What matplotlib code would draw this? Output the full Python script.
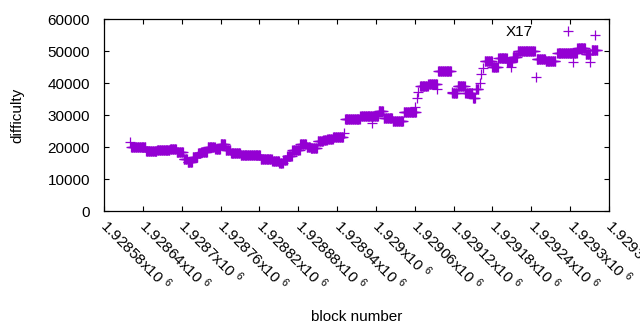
import numpy as np
import matplotlib
matplotlib.use("Agg")
import matplotlib.pyplot as plt
from matplotlib.ticker import FuncFormatter

plt.rcParams['font.family'] = ['Liberation Sans', 'DejaVu Sans']
plt.rcParams['mathtext.fontset'] = 'custom'
plt.rcParams['mathtext.rm'] = 'Liberation Sans'
plt.rcParams['mathtext.it'] = 'Liberation Sans:italic'

# runs of blocks with the same difficulty
seg_start = [1928622, 1928645, 1928662, 1928682, 1928692, 1928703, 1928709, 1928717,
             1928725, 1928730, 1928740, 1928752, 1928760, 1928768, 1928776, 1928791,
             1928822, 1928840, 1928851, 1928857, 1928863, 1928871, 1928883, 1928893,
             1928899, 1928910, 1928919, 1928925, 1928934, 1928952, 1928976, 1929004,
             1929012, 1929026, 1929043, 1929052, 1929068, 1929081, 1929096, 1929118,
             1929126, 1929138, 1929150, 1929154, 1929168, 1929180, 1929189, 1929203,
             1929211, 1929219, 1929248, 1929262, 1929280, 1929311, 1929324, 1929333]
seg_end = [1928644, 1928661, 1928681, 1928691, 1928702, 1928708, 1928716, 1928724,
           1928729, 1928739, 1928751, 1928759, 1928767, 1928775, 1928790, 1928821,
           1928839, 1928850, 1928856, 1928862, 1928870, 1928882, 1928892, 1928898,
           1928909, 1928918, 1928924, 1928933, 1928949, 1928975, 1929003, 1929011,
           1929025, 1929042, 1929051, 1929062, 1929080, 1929094, 1929116, 1929125,
           1929137, 1929149, 1929153, 1929158, 1929179, 1929188, 1929202, 1929210,
           1929218, 1929245, 1929261, 1929277, 1929310, 1929323, 1929331, 1929342]
seg_value = [19900, 18800, 19000, 19300, 18300, 16200, 15400, 16800,
             18000, 18500, 19900, 19300, 20800, 19000, 18000, 17500,
             16200, 15600, 14900, 16000, 17200, 19000, 20900, 20100,
             19600, 21900, 22300, 22400, 23000, 28700, 29700, 31200,
             29000, 28200, 30800, 31000, 39000, 39700, 43750, 36800,
             39000, 36800, 35400, 38000, 46900, 45100, 47900, 46700,
             48000, 50000, 47600, 47000, 49500, 50800, 49000, 50300]

# single blocks off the runs
out_block = [1928620, 1928994, 1928951, 1929061, 1929063, 1929065, 1929095, 1929117,
             1929160, 1929163, 1929165, 1929209, 1929213, 1929247, 1929304, 1929331,
             1929338]
out_value = [21500, 27600, 24300, 32500, 35200, 37300, 38000, 37300,
             40100, 42800, 44600, 45100, 48200, 41800, 46700, 46700,
             55000]

blocks = [np.arange(s, e + 1) for s, e in zip(seg_start, seg_end)]
values = [np.full(len(b), v) for b, v in zip(blocks, seg_value)]
block = np.concatenate(blocks + [np.array(out_block)])
difficulty = np.concatenate(values + [np.array(out_value)])

fig = plt.figure(figsize=(6.4, 3.3), dpi=100)
ax = fig.add_axes([0.1625, 0.3606, 0.7891, 0.5818])

ax.plot(block, difficulty, '+', color='#9400d3', markersize=7, markeredgewidth=0.9,
        label='X17')

ax.set_xlim(1928580, 1929360)
ax.set_ylim(0, 60000)
ax.set_xticks(np.arange(1928580, 1929361, 60))
ax.set_yticks(np.arange(0, 60001, 10000))
ax.xaxis.set_major_formatter(FuncFormatter(lambda v, p: '{:.6g}x10 $^{{6}}$'.format(v / 1e6)))

ax.tick_params(direction='in', length=3.5, width=0.8, top=True, right=True,
               labelsize=11, colors='black')
ax.tick_params(axis='y', pad=10)
ax.tick_params(axis='x', pad=8, labelrotation=-45)
plt.setp(ax.get_xticklabels(), ha='left', va='center', rotation_mode='anchor')
for sp in ax.spines.values():
    sp.set_linewidth(0.9)

ax.set_xlabel('block number', fontsize=11, va='center')
ax.set_ylabel('difficulty', fontsize=11, va='center')
ax.xaxis.set_label_coords(0.5, -0.552)
ax.yaxis.set_label_coords(-0.172, 0.5)

ax.legend(loc='center right', bbox_to_anchor=(0.949, 0.932), frameon=False,
          markerfirst=False, fontsize=11, borderpad=0, borderaxespad=0,
          handlelength=2, handletextpad=1.3)

plt.savefig('out.png', dpi=100)
